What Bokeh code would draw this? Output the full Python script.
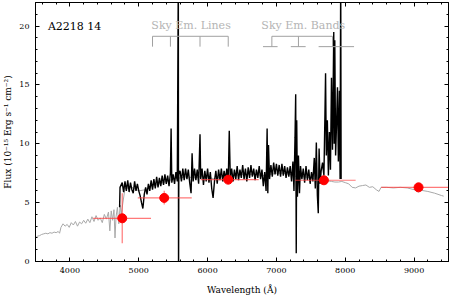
from bokeh.plotting import figure
from bokeh.models import Range1d, LinearAxis, SingleIntervalTicker, ColumnDataSource
from bokeh.core.properties import value
from bokeh.embed import file_html
from bokeh.resources import INLINE

# ---------------- data ----------------
template_wave = [3500, 3530, 3560, 3590, 3620, 3650, 3680, 3710, 3740, 3770, 3800, 3830, 3850, 3870,
                 3900, 3930, 3960, 3990, 4020, 4050, 4080, 4110, 4140, 4170, 4200, 4230, 4260, 4290,
                 4320, 4350, 4380, 4410, 4440, 4470, 4500, 4530, 4560, 4580, 4600, 4620, 4640, 4655,
                 4670, 4690, 4710, 4730, 4745, 4800, 4900, 5000, 5100, 5200, 5300, 5400, 5500, 5600,
                 5700, 5800, 5900, 6000, 6100, 6200, 6300, 6400, 6500, 6600, 6700, 6800, 6900, 6960,
                 7000, 7100, 7200, 7300, 7400, 7500, 7600, 7700, 7800, 7850, 7900, 7950, 8000, 8050,
                 8100, 8150, 8200, 8250, 8300, 8350, 8400, 8450, 8490, 8520, 8600, 8700, 8800, 8900,
                 9000, 9060, 9100, 9200, 9300, 9400, 9430]
template_flux = [2.0, 2.15, 2.2, 2.3, 2.35, 2.4, 2.35, 2.45, 2.4, 2.5, 2.45, 2.55, 2.4, 2.9,
                 3.2, 3.0, 3.15, 2.9, 3.3, 3.1, 3.4, 3.0, 3.35, 3.2, 3.5, 3.25, 3.6, 3.3,
                 3.8, 3.4, 3.9, 3.5, 3.7, 3.3, 4.0, 3.6, 4.2, 2.6, 4.3, 3.5, 4.4, 2.0,
                 3.8, 4.6, 3.2, 4.8, 4.0, 6.2, 6.3, 6.0, 6.1, 6.4, 6.6, 6.8, 7.0, 7.1,
                 7.2, 7.1, 7.2, 7.2, 7.0, 7.2, 7.3, 7.3, 7.4, 7.4, 7.4, 7.3, 7.4, 7.45,
                 7.5, 7.5, 7.4, 7.2, 7.2, 7.1, 6.9, 6.9, 6.8, 6.75, 6.75, 6.8, 6.7, 6.6,
                 6.3, 6.25, 6.4, 6.45, 6.5, 6.3, 6.35, 6.1, 5.95, 6.3, 6.3, 6.25, 6.3, 6.25,
                 6.1, 5.9, 6.05, 5.95, 5.8, 5.6, 5.55]

obs_wave = [4722, 4728, 4760, 4780, 4800, 4820, 4840, 4860, 4880, 4900, 4920, 4940, 4960, 4980,
            5000, 5020, 5040, 5060, 5080, 5100, 5120, 5140, 5160, 5180, 5200, 5220, 5240, 5260,
            5280, 5300, 5320, 5340, 5360, 5380, 5400, 5420, 5440, 5460, 5470, 5480, 5500, 5520,
            5540, 5560, 5575, 5578, 5582, 5600, 5620, 5640, 5660, 5680, 5700, 5720, 5740, 5760,
            5775, 5790, 5810, 5830, 5850, 5870, 5890, 5900, 5920, 5940, 5960, 5980, 6000, 6020,
            6040, 6060, 6080, 6100, 6120, 6140, 6160, 6180, 6200, 6220, 6240, 6260, 6280, 6300,
            6315, 6330, 6350, 6370, 6390, 6410, 6430, 6450, 6470, 6490, 6510, 6530, 6550, 6570,
            6590, 6610, 6630, 6650, 6670, 6690, 6710, 6730, 6750, 6770, 6790, 6810, 6830, 6850,
            6865, 6875, 6885, 6900, 6920, 6940, 6960, 6980, 7000, 7020, 7040, 7060, 7080, 7100,
            7120, 7140, 7160, 7180, 7200, 7220, 7240, 7255, 7270, 7280, 7288, 7295, 7305, 7320,
            7335, 7350, 7370, 7390, 7410, 7430, 7450, 7470, 7490, 7510, 7530, 7550, 7565, 7580,
            7595, 7608, 7620, 7635, 7650, 7670, 7690, 7705, 7714, 7725, 7740, 7755, 7770, 7785,
            7800, 7815, 7833, 7840, 7848, 7860, 7875, 7887, 7900, 7915, 7925, 7934, 7940]
obs_flux = [4.6, 6.3, 6.7, 5.9, 6.8, 6.0, 6.9, 5.9, 6.7, 6.1, 5.8, 6.8, 6.0, 6.6,
            6.0, 5.6, 5.0, 4.5, 5.7, 6.3, 5.7, 6.6, 6.0, 6.9, 6.1, 7.0, 6.2, 7.2,
            6.3, 7.1, 6.4, 7.3, 6.5, 7.4, 6.6, 7.3, 6.4, 7.5, 11.3, 6.7, 7.4, 6.6,
            7.6, 6.8, 25.0, -2.0, 7.4, 7.7, 6.8, 7.9, 6.9, 7.9, 7.0, 7.8, 6.7, 5.8,
            9.2, 6.8, 7.9, 6.9, 7.8, 6.6, 10.8, 7.0, 7.9, 6.5, 7.7, 6.8, 7.9, 6.7,
            7.6, 6.2, 5.4, 6.8, 7.7, 6.6, 7.8, 6.9, 7.9, 6.8, 7.7, 7.0, 7.9, 6.8,
            11.1, 7.1, 7.9, 6.8, 7.8, 7.0, 8.1, 6.9, 7.8, 7.1, 8.2, 7.0, 7.9, 6.8,
            8.0, 7.1, 8.2, 7.2, 7.9, 6.9, 7.8, 7.1, 8.1, 7.0, 7.8, 6.4, 7.6, 6.0,
            11.3, 5.8, 9.9, 7.0, 8.2, 7.2, 8.4, 7.4, 8.3, 7.3, 8.2, 7.2, 8.3, 7.3,
            8.1, 7.1, 8.0, 7.2, 8.1, 6.8, 8.5, 6.0, 10.5, 14.2, 0.7, 12.0, 5.5, 9.0,
            5.8, 8.1, 7.0, 7.9, 6.7, 8.1, 6.9, 7.8, 6.6, 7.6, 6.8, 8.8, 6.2, 10.1,
            5.6, 4.1, 9.6, 6.6, 7.7, 8.4, 7.3, 12.5, 16.0, 9.0, 12.0, 7.3, 11.0, 7.8,
            15.6, 9.5, 19.5, 10.0, 18.8, 9.0, 12.0, 14.8, 8.5, 14.5, 7.0, 25.0, 7.0]

phot_wave = [4760, 5370, 6300, 7690, 9065]
phot_flux = [3.67, 5.4, 6.95, 6.9, 6.3]
phot_wave_lo = [4337, 4986, 5900, 7271, 8522]
phot_wave_hi = [5178, 5770, 6742, 8151, 9540]
phot_flux_lo = [1.55, 4.85, 6.85, 6.8, 6.2]
phot_flux_hi = [5.8, 6.0, 7.05, 7.0, 6.4]

sky_line_waves = [5200, 5460, 5890, 6300]
sky_band_centers = [6934, 7320, 7815]
sky_band_lo = [6805, 7209, 7613]
sky_band_hi = [7017, 7425, 8128]

x_ticks_interval = 1000
y_ticks_interval = 5

# ---------------- figure ----------------
SERIF = "DejaVu Serif"
p = figure(width=451, height=300, x_range=Range1d(3500, 9500), y_range=Range1d(0, 22),
           output_backend="svg", toolbar_location=None,
           min_border_left=32, min_border_right=3, min_border_top=2, min_border_bottom=39)
p.xgrid.visible = False
p.ygrid.visible = False
p.outline_line_color = "black"
p.background_fill_color = "white"

p.add_layout(LinearAxis(), "above")
p.add_layout(LinearAxis(), "right")

for ax in p.axis:
    ax.axis_line_color = "black"
    ax.major_tick_line_color = "black"
    ax.minor_tick_line_color = "black"
    ax.major_tick_in = 4
    ax.major_tick_out = 0
    ax.minor_tick_in = 2
    ax.minor_tick_out = 0
    ax.major_label_text_font = SERIF
    ax.major_label_text_font_size = "8px"
    ax.major_label_text_color = "black"
    ax.major_label_standoff = 6
    ax.axis_label_text_font = SERIF
    ax.axis_label_text_font_size = "9px"
    ax.axis_label_text_font_style = "normal"
    ax.axis_label_text_color = "black"

for ax in (p.below[0], p.above[0]):
    ax.ticker = SingleIntervalTicker(interval=x_ticks_interval, num_minor_ticks=5)
for ax in (p.left[0], p.right[0]):
    ax.ticker = SingleIntervalTicker(interval=y_ticks_interval, num_minor_ticks=5)

for ax in (p.above[0], p.right[0]):
    ax.major_label_text_font_size = "0px"
    ax.major_label_text_color = None
    ax.major_label_text_alpha = 0
    ax.major_label_standoff = 0
    ax.axis_label = None

p.below[0].axis_label = "Wavelength (Å)"
p.below[0].axis_label_standoff = 9
p.left[0].axis_label = "Flux (10⁻¹⁵ Erg s⁻¹ cm⁻²)"
p.left[0].axis_label_standoff = 3

# spectra
p.line(template_wave, template_flux, line_color="#a8a8a8", line_width=1)
p.line(obs_wave, obs_flux, line_color="black", line_width=1.4)

# photometry
src = ColumnDataSource(dict(x=phot_wave, y=phot_flux, xl=phot_wave_lo, xh=phot_wave_hi,
                            yl=phot_flux_lo, yh=phot_flux_hi))
p.segment(x0="xl", y0="y", x1="xh", y1="y", source=src, line_color="#ff4040", line_alpha=0.7, line_width=1.2)
p.segment(x0="x", y0="yl", x1="x", y1="yh", source=src, line_color="#ff4040", line_alpha=0.7, line_width=1.2)
p.scatter(x="x", y="y", source=src, size=9, fill_color="red", line_color="red")

# labels
p.text(x=[3680], y=[20], text=["A2218 14"], text_font=value(SERIF), text_font_size="11px",
       text_baseline="middle", text_align="left", text_color="black")
p.text(x=[5760, 7390], y=[20.05, 20.05], text=["Sky Em. Lines", "Sky Em. Bands"], text_font=value(SERIF),
       text_font_size="11px", text_baseline="middle", text_align="center", text_color="#b4b4b4")

top_y = 19.13
bot_y = 18.25
bracket_col = "#a0a0a0"
# sky lines bracket
p.segment(x0=[min(sky_line_waves)], y0=[top_y], x1=[max(sky_line_waves)], y1=[top_y], line_color=bracket_col, line_width=1)
p.segment(x0=sky_line_waves, y0=[top_y] * len(sky_line_waves), x1=sky_line_waves, y1=[bot_y] * len(sky_line_waves),
          line_color=bracket_col, line_width=1)
# sky bands bracket
p.segment(x0=[min(sky_band_centers)], y0=[top_y], x1=[max(sky_band_centers)], y1=[top_y], line_color=bracket_col, line_width=1)
p.segment(x0=sky_band_centers, y0=[top_y] * 3, x1=sky_band_centers, y1=[bot_y] * 3, line_color=bracket_col, line_width=1)
p.segment(x0=sky_band_lo, y0=[bot_y] * 3, x1=sky_band_hi, y1=[bot_y] * 3, line_color=bracket_col, line_width=1)

html = file_html(p, INLINE)
html = html.replace("<head>", "<head><style>html,body{margin:0;padding:0;overflow:hidden;}</style>", 1)
open("out.html", "w").write(html)
